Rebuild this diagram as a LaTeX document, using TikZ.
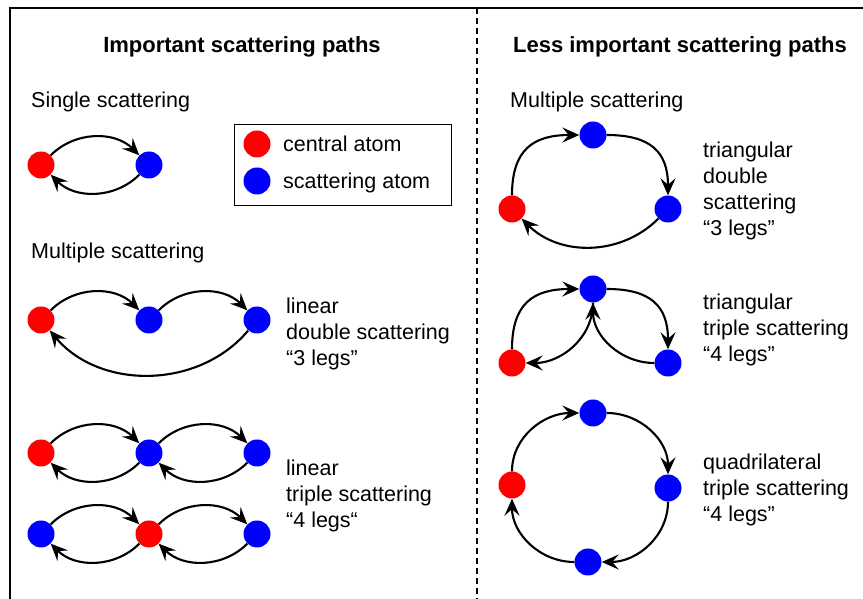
\documentclass[tikz,border=0pt]{standalone}
\usepackage{fontspec}
\setmainfont{Liberation Sans}
\usetikzlibrary{arrows.meta}
\begin{document}
\begin{tikzpicture}[x=1pt,y=1pt,
  atom/.style={circle,minimum size=27pt,inner sep=0pt},
  cen/.style={atom,fill=red},
  sca/.style={atom,fill=blue},
  arr/.style={line width=2.1pt,-{Stealth[length=17pt,width=15pt,inset=6.5pt]}},
  lbl/.style={inner sep=0pt,anchor=base west,align=left,font=\fontsize{21.5}{26}\selectfont},
  ttl/.style={inner sep=0pt,anchor=base,font=\fontsize{22}{26}\selectfont\bfseries}]
\useasboundingbox (0,0) rectangle (863,599);
% frame and divider
\coordinate (fbl) at (10,0);
\coordinate (ftl) at (10,591);
\coordinate (ftr) at (863,591);
\coordinate (dtop) at (477,591);
\coordinate (dbot) at (477,0);
\draw[line width=1.5pt] (fbl) -- (ftl) -- (ftr);
\draw[line width=1.3pt,dash pattern=on 6pt off 4pt] (dtop) -- (dbot);
% titles
\node[ttl] (tl) at (242,546) {Important scattering paths};
\node[ttl] (tr) at (680,546) {Less important scattering paths};
% left headings
\node[lbl] (hs) at (31,491) {Single scattering};
\node[lbl] (hm) at (31,340) {Multiple scattering};
\node[lbl] (hmr) at (510,491) {Multiple scattering};
% legend
\draw[line width=1pt] (234,474) rectangle (451,393);
\node[cen] (lgr) at (257,455) {};
\node[sca] (lgb) at (257,418) {};
\node[lbl] (lgrt) at (283,447) {central atom};
\node[lbl] (lgbt) at (283,410) {scattering atom};
% single scattering
\node[cen] (s1r) at (41,434) {};
\node[sca] (s1b) at (149,434) {};
\draw[arr] (s1r) to[bend left=45] (s1b);
\draw[arr] (s1b) to[bend left=45] (s1r);
% linear double scattering
\node[cen] (dr) at (41,279) {};
\node[sca] (db1) at (149,279) {};
\node[sca] (db2) at (257,279) {};
\draw[arr] (dr) to[bend left=45] (db1);
\draw[arr] (db1) to[bend left=45] (db2);
\draw[arr] (db2) to[bend left=50] (dr);
\node[lbl] (dtxt) at (286,233) {linear\\double scattering\\“3 legs”};
% linear triple scattering row 1
\node[cen] (ar1) at (41,146) {};
\node[sca] (ab1) at (149,146) {};
\node[sca] (ab2) at (257,146) {};
\draw[arr] (ar1) to[bend left=45] (ab1);
\draw[arr] (ab1) to[bend left=45] (ar1);
\draw[arr] (ab1) to[bend left=45] (ab2);
\draw[arr] (ab2) to[bend left=45] (ab1);
% row 2
\node[sca] (bb1) at (41,65) {};
\node[cen] (br1) at (149,65) {};
\node[sca] (bb2) at (257,65) {};
\draw[arr] (bb1) to[bend left=45] (br1);
\draw[arr] (br1) to[bend left=45] (bb1);
\draw[arr] (br1) to[bend left=45] (bb2);
\draw[arr] (bb2) to[bend left=45] (br1);
\node[lbl] (ttxt) at (286,71) {linear\\triple scattering\\“4 legs“};
% triangular double scattering
\node[sca] (t1t) at (593,464) {};
\node[cen] (t1r) at (512,390) {};
\node[sca] (t1b) at (668,390) {};
\draw[arr] (t1r) to[out=90,in=180,looseness=1.3] (t1t);
\draw[arr] (t1t) to[out=0,in=90,looseness=1.3] (t1b);
\draw[arr] (t1b) to[bend left=45] (t1r);
\node[lbl] (t1txt) at (703,363) {triangular\\double\\scattering\\“3 legs”};
% triangular triple scattering
\node[sca] (t2t) at (593,310) {};
\node[cen] (t2r) at (512,236) {};
\node[sca] (t2b) at (668,236) {};
\draw[arr] (t2r) to[out=90,in=180,looseness=1.3] (t2t);
\draw[arr] (t2t) to[out=0,in=90,looseness=1.3] (t2b);
\draw[arr] (t2b) to[out=180,in=-90] (t2t);
\draw[arr] (t2t) to[out=-90,in=0] (t2r);
\node[lbl] (t2txt) at (703,237) {triangular\\triple scattering\\“4 legs”};
% quadrilateral triple scattering
\node[sca] (qt) at (593,186) {};
\node[cen] (qr) at (512,114) {};
\node[sca] (qri) at (668,111) {};
\node[sca] (qb) at (588,37) {};
\draw[arr] (qr) to[out=90,in=180,looseness=1.0] (qt);
\draw[arr] (qt) to[out=0,in=90,looseness=1.0] (qri);
\draw[arr] (qri) to[out=-90,in=0,looseness=1.0] (qb);
\draw[arr] (qb) to[out=180,in=-90,looseness=1.0] (qr);
\node[lbl] (qtxt) at (703,77) {quadrilateral\\triple scattering\\“4 legs”};
\end{tikzpicture}
\end{document}
